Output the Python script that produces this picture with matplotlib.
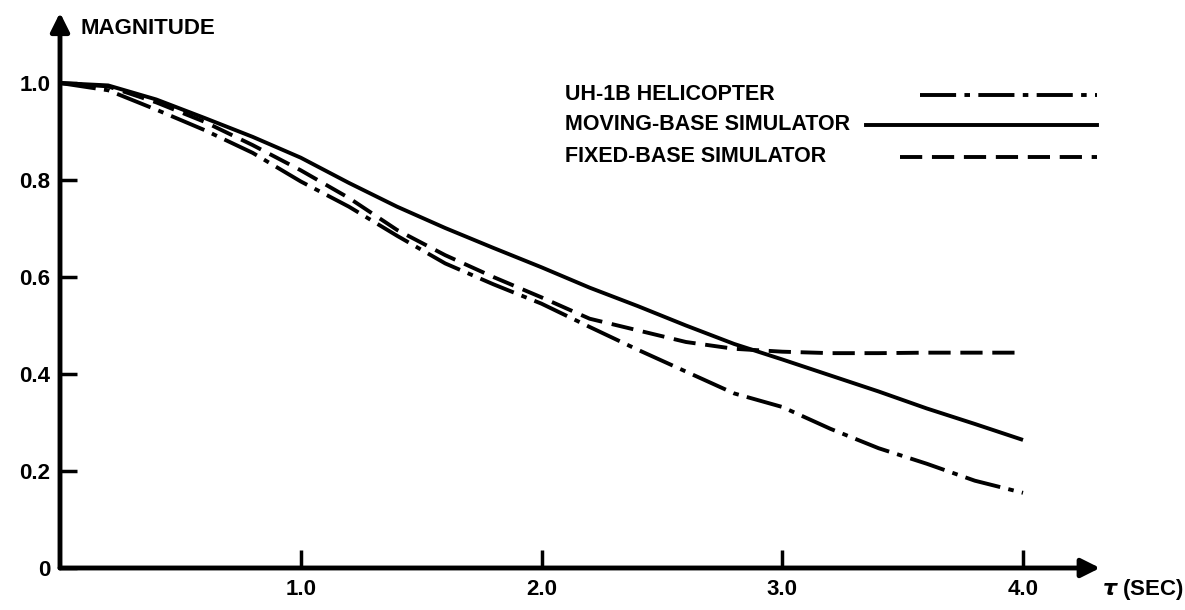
import matplotlib
matplotlib.use("Agg")
import matplotlib.pyplot as plt
from matplotlib.lines import Line2D

# Valores (tau en segundos)
tau = [0.0, 0.2, 0.4, 0.6, 0.8, 1.0, 1.2, 1.4, 1.6, 1.8, 2.0,
       2.2, 2.4, 2.6, 2.8, 3.0, 3.2, 3.4, 3.6, 3.8, 4.0]
uh1b = [1.0, 0.985, 0.945, 0.903, 0.856, 0.797, 0.745, 0.685, 0.628, 0.585, 0.545,
        0.497, 0.45, 0.405, 0.36, 0.332, 0.287, 0.247, 0.215, 0.18, 0.155]
moving = [1.0, 0.995, 0.966, 0.928, 0.889, 0.846, 0.794, 0.745, 0.701, 0.66, 0.62,
          0.578, 0.54, 0.5, 0.462, 0.43, 0.397, 0.364, 0.329, 0.297, 0.264]
fixed = [1.0, 0.993, 0.96, 0.92, 0.872, 0.82, 0.763, 0.697, 0.645, 0.60, 0.558,
         0.514, 0.49, 0.466, 0.452, 0.446, 0.443, 0.443, 0.444, 0.444, 0.444]

labels = ["UH-1B HELICOPTER", "MOVING-BASE SIMULATOR", "FIXED-BASE SIMULATOR"]
xtick_vals = [1.0, 2.0, 3.0, 4.0]
ytick_vals = [0.0, 0.2, 0.4, 0.6, 0.8, 1.0]

plt.rcParams["font.family"] = ["Liberation Sans", "DejaVu Sans"]
plt.rcParams["font.weight"] = "bold"
plt.rcParams["lines.scale_dashes"] = False

W, H = 1185, 610
fig = plt.figure(figsize=(W / 100, H / 100), dpi=100)
x0, y0 = 60, 568          # origen en pixeles
sx, sy = 240.75, 485.0    # pixeles por unidad
xmax, ymax = 4.32, 1.145
ax = fig.add_axes([x0 / W, (H - y0) / H, xmax * sx / W, ymax * sy / H])
ax.set_xlim(0, xmax)
ax.set_ylim(0, ymax)

styles = [
    dict(linestyle=(0, (26, 6, 4, 6)), linewidth=2.8),
    dict(linestyle="-", linewidth=2.8),
    dict(linestyle=(0, (16, 7)), linewidth=2.8),
]
for serie, st in zip([uh1b, moving, fixed], styles):
    ax.plot(tau, serie, color="black", solid_capstyle="butt",
            solid_joinstyle="round", dash_joinstyle="round", **st)

# Ejes con flecha
for s in ax.spines.values():
    s.set_visible(False)
arrow = dict(arrowstyle="-|>", lw=3.5, color="black", mutation_scale=28,
             shrinkA=0, shrinkB=0)
ax.annotate("", xy=(xmax, 0), xytext=(0, 0), arrowprops=arrow, annotation_clip=False)
ax.annotate("", xy=(0, ymax), xytext=(0, 0), arrowprops=arrow, annotation_clip=False)

ax.set_xticks(xtick_vals)
ax.set_xticklabels([f"{v:.1f}" for v in xtick_vals])
ax.set_yticks(ytick_vals)
ax.set_yticklabels(["0"] + [f"{v:.1f}" for v in ytick_vals[1:]])
ax.tick_params(axis="x", direction="in", length=13, width=2.5, pad=8, labelsize=16)
ax.tick_params(axis="y", direction="in", length=12, width=2.5, pad=7, labelsize=16)

fig.text(80 / W, 1 - 28 / H, "MAGNITUDE", fontsize=16, va="center", ha="left")
fig.text(1102 / W, 1 - 590 / H, r"$\tau$ (SEC)", fontsize=16, va="center", ha="left")

# Leyenda
rows_y = [95, 125, 157]
line_start = [920, 866, 900]
for lab, ry, xs, st in zip(labels, rows_y, line_start, styles):
    fig.text(565 / W, 1 - ry / H, lab, fontsize=15.5, va="center", ha="left")
    fig.add_artist(Line2D([xs / W, 1097 / W], [1 - ry / H, 1 - ry / H],
                          color="black", transform=fig.transFigure, **st))

fig.savefig("out.png", dpi=100)
